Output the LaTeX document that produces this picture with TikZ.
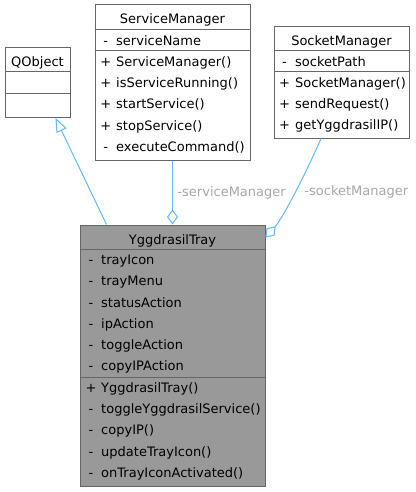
\documentclass[tikz,border=0pt]{standalone}
\usepackage{fontspec}
\setmainfont{DejaVu Sans}
\usetikzlibrary{arrows.meta}
\definecolor{edgeblue}{HTML}{63B8FF}
\definecolor{boxgray}{HTML}{666666}
\definecolor{traygray}{HTML}{999999}
\definecolor{labelgray}{HTML}{A8A8A8}
\begin{document}
\begin{tikzpicture}[x=1pt, y=-1pt, font=\fontsize{13}{16}\selectfont,
    classbox/.style={draw=boxgray, line width=1pt, fill=white, inner sep=0pt},
    mainbox/.style={classbox, fill=traygray},
    classline/.style={draw=boxgray, line width=1pt},
    title/.style={anchor=base, inner sep=0pt},
    vis/.style={anchor=base, inner sep=0pt},
    member/.style={anchor=base west, inner sep=0pt},
    inherit/.style={draw=edgeblue, line width=1pt, -{Triangle[length=14pt, width=11pt, fill=white]}},
    compose/.style={draw=edgeblue, line width=1pt, -{Diamond[length=15pt, width=11pt, fill=white]}},
    edgelabel/.style={text=labelgray, inner sep=0pt, anchor=base west}]
  \fill[white] (0,0) rectangle (415,492);
  \useasboundingbox (0,0) rectangle (415,492);

  \node[classbox, minimum width=65pt, minimum height=69.5pt] (qobj) at (37.5,82.75) {};
  \node[title] (qobj-title) at (37.5,66.4) {QObject};
  \draw[classline] (qobj.west |- 0,71.5) -- (qobj.east |- 0,71.5);
  \draw[classline] (qobj.west |- 0,93.5) -- (qobj.east |- 0,93.5);

  \node[classbox, minimum width=155pt, minimum height=155pt] (svcmgr) at (172.5,82.5) {};
  \node[title] (svcmgr-title) at (172.5,23.8) {ServiceManager};
  \draw[classline] (svcmgr.west |- 0,29.5) -- (svcmgr.east |- 0,29.5);
  \draw[classline] (svcmgr.west |- 0,51) -- (svcmgr.east |- 0,51);
  \node[vis] (svcmgr-v0) at (105.7,45.2) {-};
  \node[member] (svcmgr-a0) at (116,45.2) {serviceName};
  \foreach \v/\n [count=\i from 0] in {+/ServiceManager(), +/isServiceRunning(), +/startService(), +/stopService(), -/executeCommand()}
    \node[vis] (svcmgr-mv\i) at (105.7,66.4+21.2*\i) {\v}
      node[member] (svcmgr-m\i) at (116,66.4+21.2*\i) {\n};

  \node[classbox, minimum width=135pt, minimum height=111pt] (sockmgr) at (341.5,82.5) {};
  \node[title] (sockmgr-title) at (341.5,45.4) {SocketManager};
  \draw[classline] (sockmgr.west |- 0,51) -- (sockmgr.east |- 0,51);
  \draw[classline] (sockmgr.west |- 0,72) -- (sockmgr.east |- 0,72);
  \node[vis] (sockmgr-v0) at (284.5,66.4) {-};
  \node[member] (sockmgr-a0) at (295,66.4) {socketPath};
  \foreach \v/\n [count=\i from 0] in {+/SocketManager(), +/sendRequest(), +/getYggdrasilIP()}
    \node[vis] (sockmgr-mv\i) at (284.5,87.4+21.2*\i) {\v}
      node[member] (sockmgr-m\i) at (295,87.4+21.2*\i) {\n};

  \node[mainbox, minimum width=185pt, minimum height=261.5pt] (tray) at (172.5,355.75) {};
  \node[title] (tray-title) at (172.5,244) {YggdrasilTray};
  \draw[classline] (tray.west |- 0,249.5) -- (tray.east |- 0,249.5);
  \draw[classline] (tray.west |- 0,377) -- (tray.east |- 0,377);
  \foreach \v/\n [count=\i from 0] in {-/trayIcon, -/trayMenu, -/statusAction, -/ipAction, -/toggleAction, -/copyIPAction}
    \node[vis] (tray-v\i) at (91,264.6+21.2*\i) {\v}
      node[member] (tray-a\i) at (101,264.6+21.2*\i) {\n};
  \foreach \v/\n [count=\i from 0] in {+/YggdrasilTray(), -/toggleYggdrasilService(), -/copyIP(), -/updateTrayIcon(), -/onTrayIconActivated()}
    \node[vis] (tray-mv\i) at (91,392.4+21.2*\i) {\v}
      node[member] (tray-m\i) at (101,392.4+21.2*\i) {\n};

  \draw[inherit] ([xshift=27pt]tray.north west) -- ([xshift=51pt]qobj.south west);
  \draw[compose] (svcmgr) -- (tray)
    node[edgelabel, midway, xshift=4.5pt, yshift=-3.5pt] (svcmgr-label) {-serviceManager};
  \draw[compose] ([xshift=-20.5pt]sockmgr.south) .. controls (308,169) and (283,218) .. ([yshift=-13pt]tray.north east)
    node[edgelabel, midway, xshift=9pt, yshift=-3.8pt] (sockmgr-label) {-socketManager};
\end{tikzpicture}
\end{document}
